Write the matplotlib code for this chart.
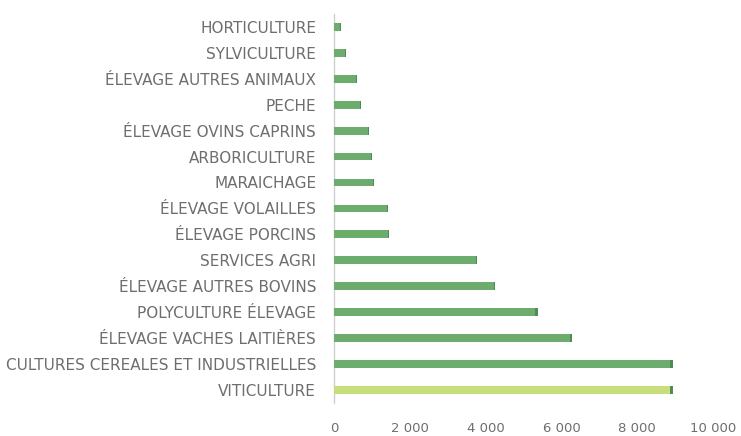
import matplotlib

matplotlib.use("Agg")
import matplotlib.pyplot as plt
from matplotlib.ticker import FuncFormatter

# bottom to top, as drawn
categories = [
    "VITICULTURE",
    "CULTURES CEREALES ET INDUSTRIELLES",
    "ÉLEVAGE VACHES LAITIÈRES",
    "POLYCULTURE ÉLEVAGE",
    "ÉLEVAGE AUTRES BOVINS",
    "SERVICES AGRI",
    "ÉLEVAGE PORCINS",
    "ÉLEVAGE VOLAILLES",
    "MARAICHAGE",
    "ARBORICULTURE",
    "ÉLEVAGE OVINS CAPRINS",
    "PECHE",
    "ÉLEVAGE AUTRES ANIMAUX",
    "SYLVICULTURE",
    "HORTICULTURE",
]
values = [8950, 8950, 6290, 5370, 4260, 3780, 1450, 1430,
          1060, 990, 920, 710, 600, 320, 180]
x_ticks = [0, 2000, 4000, 6000, 8000, 10000]

GREEN = "#6cac6c"
LIME = "#c8dd7c"
TEXT = "#6e6e6e"
AXIS = "#cfcfcf"

plt.rcParams["font.family"] = ["DejaVu Sans"]

fig = plt.figure(figsize=(7.41, 4.36), dpi=100)
ax = fig.add_axes([0.451, 0.076, 0.511, 0.892])

colors = [LIME] + [GREEN] * (len(values) - 1)
ax.barh(range(len(categories)), values, height=0.3, color=colors,
        edgecolor="none", zorder=3)
# darker end caps like the original image
caps = [v * 0.006 + 25 for v in values]
ax.barh(range(len(categories)), caps,
        left=[v - c for v, c in zip(values, caps)], height=0.3,
        color="#4f8a58", edgecolor="none", zorder=4)

ax.set_ylim(-0.5, len(categories) - 0.5)
ax.set_xlim(0, 10000)
ax.set_yticks(range(len(categories)))
ax.set_yticklabels(categories, fontsize=11, color=TEXT)
ax.set_xticks(x_ticks)
ax.xaxis.set_major_formatter(
    FuncFormatter(lambda v, _: f"{int(v):,}".replace(",", " ")))
ax.tick_params(axis="x", length=0, pad=14, labelsize=9.5, labelcolor=TEXT)
ax.tick_params(axis="y", length=0, pad=13)

for s in ("top", "right", "bottom"):
    ax.spines[s].set_visible(False)
ax.spines["left"].set_color(AXIS)
ax.spines["left"].set_linewidth(1.0)

fig.savefig("out.png", dpi=100, facecolor="white")
